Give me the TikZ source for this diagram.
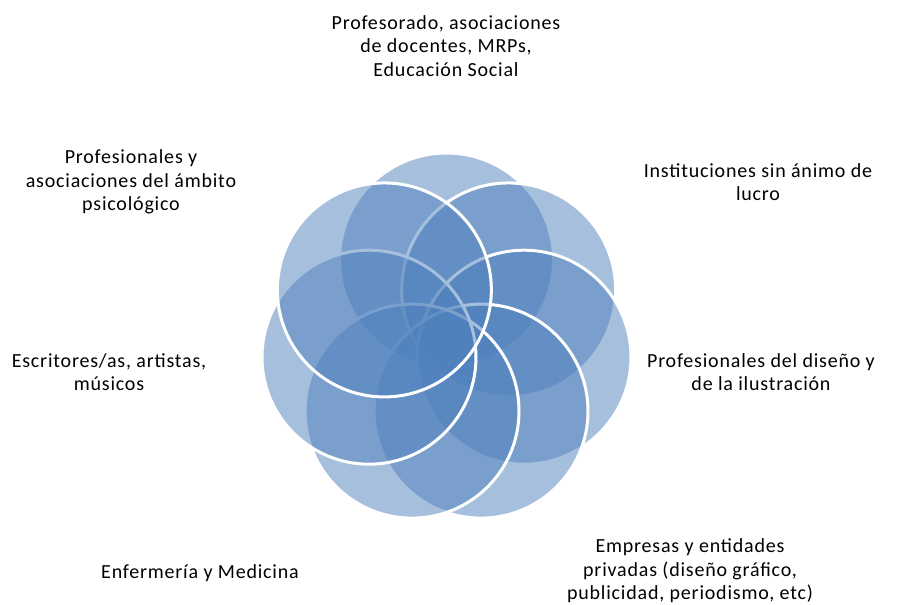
\documentclass[tikz,border=0pt]{standalone}
\usepackage{fontspec}
\newfontfamily\lab{Carlito}[LetterSpace=4]
\definecolor{accent}{HTML}{4F81BD}
\begin{document}
\begin{tikzpicture}[x=1pt,y=1pt,
  circ/.style={fill=accent, fill opacity=0.5, draw=white, draw opacity=1, line width=3pt},
  lbl/.style={align=center, inner sep=0pt, text=black, font=\lab\fontsize{20}{23.5}\selectfont}]
\fill[white] (0,0) rectangle (898,605);
\useasboundingbox (0,0) rectangle (898,605);
\coordinate (C) at (446.5,265.5);
\foreach \k in {0,...,6}{
  \pgfmathsetmacro\ang{90-\k*360/7}
  \path[circ] (C) ++(\ang:79.5pt) circle (107pt);
}
\node[lbl] (t1) at (446,559) {Profesorado, asociaciones\\de docentes, MRPs,\\Educación Social};
\node[lbl] (t2) at (758,423) {Instituciones sin ánimo de\\lucro};
\node[lbl] (t3) at (761,233) {Profesionales del diseño y\\de la ilustración};
\node[lbl] (t4) at (690,34) {Empresas y entidades\\privadas (diseño gráfico,\\publicidad, periodismo, etc)};
\node[lbl] (t5) at (200,32) {Enfermería y Medicina};
\node[lbl] (t6) at (109,233) {Escritores/as, artistas,\\músicos};
\node[lbl] (t7) at (131,423) {Profesionales y\\asociaciones del ámbito\\psicológico};
\end{tikzpicture}
\end{document}
